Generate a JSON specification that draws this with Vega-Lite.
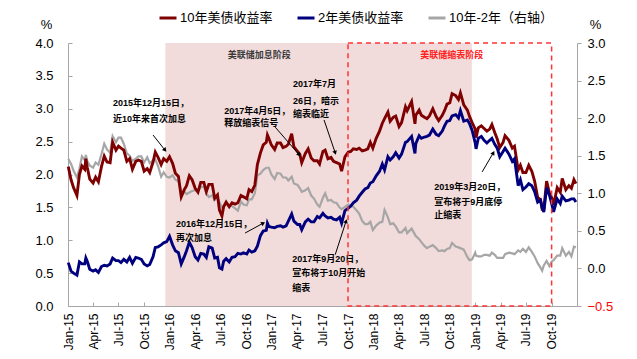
{
  "$schema": "https://vega.github.io/schema/vega-lite/v6.json",
  "width": 509,
  "height": 263,
  "autosize": {"type": "none"},
  "padding": {"left": 68, "top": 43, "right": 60, "bottom": 53},
  "background": "white",
  "config": {
    "view": {"stroke": null},
    "font": "Liberation Sans, Noto Sans CJK SC",
    "axis": {"grid": false, "domainColor": "#A6A6A6", "tickColor": "#A6A6A6", "labelColor": "#000000", "labelFont": "Liberation Sans", "labelFontSize": 13, "titleFont": "Liberation Sans", "titleFontSize": 13, "titleFontWeight": "normal", "titleColor": "#000000", "labelOverlap": false, "labelBound": false},
    "legend": {"orient": "none", "legendX": 90, "legendY": -35, "direction": "horizontal", "symbolType": "stroke", "symbolSize": 289, "symbolStrokeWidth": 3, "labelFontSize": 13, "labelFont": "Liberation Sans, Noto Sans CJK SC", "labelColor": "#000000", "columnPadding": 18, "labelOffset": 2}
  },
  "datasets": {
    "t": [
      {"d":"2015-01-02","y10":2.12,"y2":0.66,"sp":1.46},
      {"d":"2015-01-12","y10":1.92,"y2":0.53,"sp":1.39},
      {"d":"2015-01-21","y10":1.80,"y2":0.50,"sp":1.30},
      {"d":"2015-02-02","y10":1.68,"y2":0.47,"sp":1.21},
      {"d":"2015-02-11","y10":2.00,"y2":0.67,"sp":1.33},
      {"d":"2015-02-20","y10":2.13,"y2":0.64,"sp":1.49},
      {"d":"2015-03-02","y10":2.08,"y2":0.64,"sp":1.44},
      {"d":"2015-03-06","y10":2.24,"y2":0.73,"sp":1.51},
      {"d":"2015-03-11","y10":2.11,"y2":0.68,"sp":1.43},
      {"d":"2015-03-20","y10":1.93,"y2":0.56,"sp":1.37},
      {"d":"2015-04-01","y10":1.87,"y2":0.53,"sp":1.34},
      {"d":"2015-04-10","y10":1.96,"y2":0.55,"sp":1.41},
      {"d":"2015-04-20","y10":1.89,"y2":0.51,"sp":1.38},
      {"d":"2015-05-01","y10":2.12,"y2":0.60,"sp":1.52},
      {"d":"2015-05-11","y10":2.28,"y2":0.62,"sp":1.66},
      {"d":"2015-05-21","y10":2.19,"y2":0.61,"sp":1.58},
      {"d":"2015-06-01","y10":2.18,"y2":0.64,"sp":1.54},
      {"d":"2015-06-10","y10":2.49,"y2":0.73,"sp":1.76},
      {"d":"2015-06-22","y10":2.37,"y2":0.69,"sp":1.68},
      {"d":"2015-07-01","y10":2.43,"y2":0.69,"sp":1.74},
      {"d":"2015-07-10","y10":2.40,"y2":0.66,"sp":1.74},
      {"d":"2015-07-20","y10":2.37,"y2":0.71,"sp":1.66},
      {"d":"2015-07-31","y10":2.20,"y2":0.67,"sp":1.53},
      {"d":"2015-08-10","y10":2.24,"y2":0.74,"sp":1.50},
      {"d":"2015-08-20","y10":2.08,"y2":0.65,"sp":1.43},
      {"d":"2015-09-01","y10":2.20,"y2":0.74,"sp":1.46},
      {"d":"2015-09-10","y10":2.22,"y2":0.73,"sp":1.49},
      {"d":"2015-09-21","y10":2.20,"y2":0.71,"sp":1.49},
      {"d":"2015-10-01","y10":2.05,"y2":0.64,"sp":1.41},
      {"d":"2015-10-12","y10":2.09,"y2":0.61,"sp":1.48},
      {"d":"2015-10-21","y10":2.03,"y2":0.63,"sp":1.40},
      {"d":"2015-11-02","y10":2.19,"y2":0.75,"sp":1.44},
      {"d":"2015-11-10","y10":2.34,"y2":0.89,"sp":1.45},
      {"d":"2015-11-20","y10":2.26,"y2":0.90,"sp":1.36},
      {"d":"2015-12-01","y10":2.15,"y2":0.93,"sp":1.22},
      {"d":"2015-12-10","y10":2.24,"y2":0.96,"sp":1.28},
      {"d":"2015-12-21","y10":2.20,"y2":0.98,"sp":1.22},
      {"d":"2015-12-31","y10":2.27,"y2":1.06,"sp":1.21},
      {"d":"2016-01-11","y10":2.17,"y2":0.93,"sp":1.24},
      {"d":"2016-01-21","y10":2.02,"y2":0.84,"sp":1.18},
      {"d":"2016-02-01","y10":1.97,"y2":0.81,"sp":1.16},
      {"d":"2016-02-11","y10":1.66,"y2":0.64,"sp":1.02},
      {"d":"2016-02-22","y10":1.77,"y2":0.75,"sp":1.02},
      {"d":"2016-03-01","y10":1.83,"y2":0.84,"sp":0.99},
      {"d":"2016-03-11","y10":1.98,"y2":0.97,"sp":1.01},
      {"d":"2016-03-21","y10":1.92,"y2":0.89,"sp":1.03},
      {"d":"2016-04-01","y10":1.79,"y2":0.75,"sp":1.04},
      {"d":"2016-04-11","y10":1.73,"y2":0.70,"sp":1.03},
      {"d":"2016-04-21","y10":1.88,"y2":0.80,"sp":1.08},
      {"d":"2016-05-02","y10":1.88,"y2":0.79,"sp":1.09},
      {"d":"2016-05-11","y10":1.74,"y2":0.74,"sp":1.00},
      {"d":"2016-05-20","y10":1.85,"y2":0.90,"sp":0.95},
      {"d":"2016-06-01","y10":1.85,"y2":0.88,"sp":0.97},
      {"d":"2016-06-10","y10":1.64,"y2":0.73,"sp":0.91},
      {"d":"2016-06-20","y10":1.69,"y2":0.74,"sp":0.95},
      {"d":"2016-06-27","y10":1.46,"y2":0.58,"sp":0.88},
      {"d":"2016-07-06","y10":1.37,"y2":0.56,"sp":0.81},
      {"d":"2016-07-12","y10":1.51,"y2":0.68,"sp":0.83},
      {"d":"2016-07-21","y10":1.58,"y2":0.72,"sp":0.86},
      {"d":"2016-08-01","y10":1.51,"y2":0.67,"sp":0.84},
      {"d":"2016-08-11","y10":1.57,"y2":0.74,"sp":0.83},
      {"d":"2016-08-22","y10":1.55,"y2":0.75,"sp":0.80},
      {"d":"2016-09-01","y10":1.57,"y2":0.80,"sp":0.77},
      {"d":"2016-09-12","y10":1.68,"y2":0.79,"sp":0.89},
      {"d":"2016-09-21","y10":1.66,"y2":0.81,"sp":0.85},
      {"d":"2016-10-03","y10":1.63,"y2":0.79,"sp":0.84},
      {"d":"2016-10-11","y10":1.77,"y2":0.85,"sp":0.92},
      {"d":"2016-10-21","y10":1.74,"y2":0.82,"sp":0.92},
      {"d":"2016-11-01","y10":1.84,"y2":0.84,"sp":1.00},
      {"d":"2016-11-10","y10":2.15,"y2":0.91,"sp":1.24},
      {"d":"2016-11-21","y10":2.33,"y2":1.07,"sp":1.26},
      {"d":"2016-12-01","y10":2.45,"y2":1.14,"sp":1.31},
      {"d":"2016-12-12","y10":2.49,"y2":1.15,"sp":1.34},
      {"d":"2016-12-16","y10":2.60,"y2":1.26,"sp":1.34},
      {"d":"2016-12-21","y10":2.55,"y2":1.21,"sp":1.34},
      {"d":"2016-12-30","y10":2.45,"y2":1.20,"sp":1.25},
      {"d":"2017-01-11","y10":2.38,"y2":1.19,"sp":1.19},
      {"d":"2017-01-20","y10":2.48,"y2":1.21,"sp":1.27},
      {"d":"2017-02-01","y10":2.48,"y2":1.22,"sp":1.26},
      {"d":"2017-02-10","y10":2.41,"y2":1.20,"sp":1.21},
      {"d":"2017-02-21","y10":2.43,"y2":1.22,"sp":1.21},
      {"d":"2017-03-01","y10":2.46,"y2":1.29,"sp":1.17},
      {"d":"2017-03-13","y10":2.62,"y2":1.40,"sp":1.22},
      {"d":"2017-03-21","y10":2.42,"y2":1.29,"sp":1.13},
      {"d":"2017-04-03","y10":2.35,"y2":1.24,"sp":1.11},
      {"d":"2017-04-11","y10":2.31,"y2":1.24,"sp":1.07},
      {"d":"2017-04-18","y10":2.18,"y2":1.16,"sp":1.02},
      {"d":"2017-05-01","y10":2.32,"y2":1.28,"sp":1.04},
      {"d":"2017-05-11","y10":2.39,"y2":1.32,"sp":1.07},
      {"d":"2017-05-22","y10":2.25,"y2":1.28,"sp":0.97},
      {"d":"2017-06-01","y10":2.21,"y2":1.28,"sp":0.93},
      {"d":"2017-06-13","y10":2.21,"y2":1.36,"sp":0.85},
      {"d":"2017-06-21","y10":2.16,"y2":1.34,"sp":0.82},
      {"d":"2017-07-03","y10":2.35,"y2":1.41,"sp":0.94},
      {"d":"2017-07-11","y10":2.37,"y2":1.37,"sp":1.00},
      {"d":"2017-07-21","y10":2.24,"y2":1.34,"sp":0.90},
      {"d":"2017-08-01","y10":2.26,"y2":1.35,"sp":0.91},
      {"d":"2017-08-10","y10":2.20,"y2":1.32,"sp":0.88},
      {"d":"2017-08-21","y10":2.18,"y2":1.31,"sp":0.87},
      {"d":"2017-09-01","y10":2.16,"y2":1.35,"sp":0.81},
      {"d":"2017-09-08","y10":2.05,"y2":1.26,"sp":0.79},
      {"d":"2017-09-20","y10":2.27,"y2":1.45,"sp":0.82},
      {"d":"2017-10-02","y10":2.34,"y2":1.49,"sp":0.85},
      {"d":"2017-10-11","y10":2.35,"y2":1.52,"sp":0.83},
      {"d":"2017-10-20","y10":2.39,"y2":1.57,"sp":0.82},
      {"d":"2017-11-01","y10":2.38,"y2":1.61,"sp":0.77},
      {"d":"2017-11-10","y10":2.40,"y2":1.67,"sp":0.73},
      {"d":"2017-11-21","y10":2.36,"y2":1.73,"sp":0.63},
      {"d":"2017-12-01","y10":2.37,"y2":1.78,"sp":0.59},
      {"d":"2017-12-11","y10":2.39,"y2":1.80,"sp":0.59},
      {"d":"2017-12-20","y10":2.49,"y2":1.87,"sp":0.62},
      {"d":"2017-12-29","y10":2.40,"y2":1.89,"sp":0.51},
      {"d":"2018-01-10","y10":2.55,"y2":1.98,"sp":0.57},
      {"d":"2018-01-22","y10":2.66,"y2":2.05,"sp":0.61},
      {"d":"2018-02-01","y10":2.78,"y2":2.16,"sp":0.62},
      {"d":"2018-02-09","y10":2.85,"y2":2.07,"sp":0.78},
      {"d":"2018-02-21","y10":2.95,"y2":2.27,"sp":0.68},
      {"d":"2018-03-01","y10":2.81,"y2":2.22,"sp":0.59},
      {"d":"2018-03-12","y10":2.87,"y2":2.27,"sp":0.60},
      {"d":"2018-03-21","y10":2.89,"y2":2.33,"sp":0.56},
      {"d":"2018-04-02","y10":2.73,"y2":2.25,"sp":0.48},
      {"d":"2018-04-11","y10":2.79,"y2":2.31,"sp":0.48},
      {"d":"2018-04-25","y10":3.03,"y2":2.49,"sp":0.54},
      {"d":"2018-05-01","y10":2.97,"y2":2.50,"sp":0.47},
      {"d":"2018-05-17","y10":3.11,"y2":2.58,"sp":0.53},
      {"d":"2018-05-29","y10":2.77,"y2":2.32,"sp":0.45},
      {"d":"2018-06-01","y10":2.90,"y2":2.47,"sp":0.43},
      {"d":"2018-06-13","y10":2.98,"y2":2.59,"sp":0.39},
      {"d":"2018-06-21","y10":2.90,"y2":2.55,"sp":0.35},
      {"d":"2018-07-02","y10":2.87,"y2":2.57,"sp":0.30},
      {"d":"2018-07-11","y10":2.85,"y2":2.58,"sp":0.27},
      {"d":"2018-07-20","y10":2.89,"y2":2.60,"sp":0.29},
      {"d":"2018-08-01","y10":3.00,"y2":2.69,"sp":0.31},
      {"d":"2018-08-13","y10":2.88,"y2":2.61,"sp":0.27},
      {"d":"2018-08-22","y10":2.82,"y2":2.59,"sp":0.23},
      {"d":"2018-09-04","y10":2.90,"y2":2.66,"sp":0.24},
      {"d":"2018-09-12","y10":2.97,"y2":2.74,"sp":0.23},
      {"d":"2018-09-21","y10":3.07,"y2":2.81,"sp":0.26},
      {"d":"2018-10-01","y10":3.09,"y2":2.82,"sp":0.27},
      {"d":"2018-10-09","y10":3.23,"y2":2.89,"sp":0.34},
      {"d":"2018-10-22","y10":3.20,"y2":2.91,"sp":0.29},
      {"d":"2018-11-01","y10":3.14,"y2":2.86,"sp":0.28},
      {"d":"2018-11-08","y10":3.24,"y2":2.97,"sp":0.27},
      {"d":"2018-11-20","y10":3.06,"y2":2.81,"sp":0.25},
      {"d":"2018-12-03","y10":2.98,"y2":2.83,"sp":0.15},
      {"d":"2018-12-11","y10":2.88,"y2":2.77,"sp":0.11},
      {"d":"2018-12-20","y10":2.79,"y2":2.67,"sp":0.12},
      {"d":"2018-12-31","y10":2.69,"y2":2.48,"sp":0.21},
      {"d":"2019-01-03","y10":2.56,"y2":2.39,"sp":0.17},
      {"d":"2019-01-11","y10":2.71,"y2":2.55,"sp":0.16},
      {"d":"2019-01-22","y10":2.74,"y2":2.58,"sp":0.16},
      {"d":"2019-02-01","y10":2.70,"y2":2.52,"sp":0.18},
      {"d":"2019-02-11","y10":2.66,"y2":2.48,"sp":0.18},
      {"d":"2019-02-21","y10":2.69,"y2":2.52,"sp":0.17},
      {"d":"2019-03-01","y10":2.76,"y2":2.55,"sp":0.21},
      {"d":"2019-03-11","y10":2.64,"y2":2.46,"sp":0.18},
      {"d":"2019-03-20","y10":2.54,"y2":2.40,"sp":0.14},
      {"d":"2019-03-29","y10":2.41,"y2":2.27,"sp":0.14},
      {"d":"2019-04-10","y10":2.49,"y2":2.35,"sp":0.14},
      {"d":"2019-04-17","y10":2.59,"y2":2.40,"sp":0.19},
      {"d":"2019-05-01","y10":2.52,"y2":2.31,"sp":0.21},
      {"d":"2019-05-13","y10":2.40,"y2":2.20,"sp":0.20},
      {"d":"2019-05-21","y10":2.43,"y2":2.24,"sp":0.19},
      {"d":"2019-06-03","y10":2.07,"y2":1.83,"sp":0.24},
      {"d":"2019-06-11","y10":2.14,"y2":1.92,"sp":0.22},
      {"d":"2019-06-20","y10":2.03,"y2":1.77,"sp":0.26},
      {"d":"2019-07-01","y10":2.03,"y2":1.81,"sp":0.22},
      {"d":"2019-07-11","y10":2.14,"y2":1.86,"sp":0.28},
      {"d":"2019-07-22","y10":2.05,"y2":1.83,"sp":0.22},
      {"d":"2019-08-01","y10":1.90,"y2":1.74,"sp":0.16},
      {"d":"2019-08-12","y10":1.65,"y2":1.58,"sp":0.07},
      {"d":"2019-08-22","y10":1.62,"y2":1.61,"sp":0.01},
      {"d":"2019-08-28","y10":1.47,"y2":1.50,"sp":-0.03},
      {"d":"2019-09-03","y10":1.47,"y2":1.43,"sp":0.04},
      {"d":"2019-09-13","y10":1.90,"y2":1.80,"sp":0.10},
      {"d":"2019-09-23","y10":1.72,"y2":1.69,"sp":0.03},
      {"d":"2019-10-01","y10":1.65,"y2":1.56,"sp":0.09},
      {"d":"2019-10-08","y10":1.54,"y2":1.43,"sp":0.11},
      {"d":"2019-10-21","y10":1.80,"y2":1.63,"sp":0.17},
      {"d":"2019-11-01","y10":1.73,"y2":1.56,"sp":0.17},
      {"d":"2019-11-08","y10":1.94,"y2":1.67,"sp":0.27},
      {"d":"2019-11-21","y10":1.77,"y2":1.60,"sp":0.17},
      {"d":"2019-12-02","y10":1.83,"y2":1.61,"sp":0.22},
      {"d":"2019-12-11","y10":1.79,"y2":1.63,"sp":0.16},
      {"d":"2019-12-20","y10":1.92,"y2":1.63,"sp":0.29},
      {"d":"2019-12-27","y10":1.86,"y2":1.58,"sp":0.28}
    ],
    "arrows": [
      {"d1": "2015-11-02", "v1": 2.60, "d2": "2015-12-15", "v2": 2.37, "id": 1},
      {"d1": "2017-01-13", "v1": 2.72, "d2": "2017-04-09", "v2": 2.30, "id": 2},
      {"d1": "2017-07-07", "v1": 2.83, "d2": "2017-08-16", "v2": 2.33, "id": 3},
      {"d1": "2016-09-27", "v1": 1.11, "d2": "2016-12-01", "v2": 1.26, "id": 4},
      {"d1": "2017-08-16", "v1": 0.78, "d2": "2017-09-24", "v2": 1.29, "id": 5},
      {"d1": "2019-01-25", "v1": 2.04, "d2": "2019-03-06", "v2": 2.33, "id": 6}
    ]
  },
  "layer": [
    {
      "data": {"values": [{"s": "2015-12-16", "e": "2018-12-19"}]},
      "mark": {"type": "rect", "color": "#F2DCDB"},
      "encoding": {
        "x": {"field": "s", "type": "temporal", "scale": {"type": "utc", "domain": [{"year": 2015, "month": 1, "date": 1, "utc": true}, {"year": 2019, "month": 12, "date": 31, "utc": true}]}, "axis": {"title": null, "format": "%b-%y", "labelAngle": 270, "labelFontSize": 12, "tickCount": {"interval": "month", "step": 3}, "tickSize": -4, "labelPadding": 11, "labelOverlap": false, "labelFlush": false}},
        "x2": {"field": "e"}
      }
    },
    {
      "data": {"name": "t"},
      "transform": [{"fold": ["sp"], "as": ["series", "val"]}],
      "mark": {"type": "line", "strokeWidth": 2.2},
      "encoding": {
        "x": {"field": "d", "type": "temporal", "axis": {"title": null}},
        "y": {"field": "val", "type": "quantitative", "scale": {"domain": [-0.5, 3], "nice": false, "zero": false}, "axis": {"orient": "right", "title": "%", "titleAngle": 0, "titleX": 18, "titleY": -19, "titleAlign": "center", "titleBaseline": "middle", "values": [-0.5, 0, 0.5, 1, 1.5, 2, 2.5, 3], "format": ".1f", "tickSize": 4, "labelPadding": 6, "labelOverlap": false, "labelColor": {"condition": {"test": "datum.value < 0", "value": "#FF0000"}, "value": "#000000"}}},
        "color": {"field": "series", "type": "nominal", "scale": {"domain": ["y10", "y2", "sp"], "range": ["#7F0000", "#00007F", "#A6A6A6"]}, "legend": {"title": null, "labelExpr": "datum.value == 'y10' ? '10年美债收益率' : datum.value == 'y2' ? '2年美债收益率' : '10年-2年（右轴）'"}}
      }
    },
    {
      "data": {"name": "t"},
      "transform": [{"fold": ["y10", "y2"], "as": ["series", "val"]}],
      "mark": {"type": "line", "strokeWidth": 2.9},
      "encoding": {
        "x": {"field": "d", "type": "temporal", "axis": {"title": null}},
        "y": {"field": "val", "type": "quantitative", "scale": {"domain": [0, 4], "nice": false}, "axis": {"orient": "left", "title": "%", "titleAngle": 0, "titleX": -22, "titleY": -19, "titleAlign": "center", "titleBaseline": "middle", "values": [0, 0.5, 1, 1.5, 2, 2.5, 3, 3.5, 4], "format": ".1f", "tickSize": -4, "labelPadding": 19, "labelOverlap": false}},
        "color": {"field": "series", "type": "nominal", "scale": {"domain": ["y10", "y2", "sp"], "range": ["#7F0000", "#00007F", "#A6A6A6"]}}
      }
    },
    {
      "data": {"name": "arrows"},
      "mark": {"type": "rule", "color": "#000000", "strokeWidth": 1},
      "encoding": {
        "x": {"field": "d1", "type": "temporal", "axis": {"title": null}},
        "x2": {"field": "d2"},
        "y": {"field": "v1", "type": "quantitative", "scale": {"domain": [0, 4], "nice": false}, "axis": null},
        "y2": {"field": "v2"}
      }
    },
    {
      "data": {"name": "arrows"},
      "mark": {"type": "point", "shape": "triangle-up", "filled": true, "color": "#000000", "size": 22, "opacity": 1},
      "encoding": {
        "x": {"field": "d2", "type": "temporal", "axis": {"title": null}},
        "y": {"field": "v2", "type": "quantitative", "scale": {"domain": [0, 4], "nice": false}, "axis": null},
        "angle": {"field": "id", "type": "ordinal", "scale": {"type": "ordinal", "domain": [1, 2, 3, 4, 5, 6], "range": [141, 139, 162, 61, 18, 30]}, "legend": null}
      }
    },
    {
      "data": {"values": [
        {"d": "2015-06-11", "v": 3.09, "t": "2015年12月15日，"},
        {"d": "2015-06-11", "v": 2.84, "t": "近10年来首次加息"},
        {"d": "2016-07-14", "v": 2.97, "t": "2017年4月5日，"},
        {"d": "2016-07-14", "v": 2.78, "t": "释放缩表信号"},
        {"d": "2017-03-18", "v": 3.38, "t": "2017年7月"},
        {"d": "2017-03-18", "v": 3.12, "t": "26日，暗示"},
        {"d": "2017-03-18", "v": 2.92, "t": "缩表临近"},
        {"d": "2016-01-23", "v": 1.25, "t": "2016年12月15日，"},
        {"d": "2016-01-23", "v": 1.03, "t": "再次加息"},
        {"d": "2017-03-15", "v": 0.72, "t": "2017年9月20日，"},
        {"d": "2017-03-15", "v": 0.50, "t": "宣布将于10月开始"},
        {"d": "2017-03-15", "v": 0.27, "t": "缩表"},
        {"d": "2018-08-06", "v": 1.81, "t": "2019年3月20日，"},
        {"d": "2018-08-06", "v": 1.58, "t": "宣布将于9月底停"},
        {"d": "2018-08-06", "v": 1.38, "t": "止缩表"}
      ]},
      "mark": {"type": "text", "align": "left", "baseline": "middle", "fontSize": 9, "fontWeight": "bold", "color": "#000000", "font": "Liberation Sans, Noto Sans CJK SC"},
      "encoding": {
        "x": {"field": "d", "type": "temporal", "axis": {"title": null}},
        "y": {"field": "v", "type": "quantitative", "scale": {"domain": [0, 4], "nice": false}, "axis": null},
        "text": {"field": "t"}
      }
    },
    {
      "data": {"values": [{"d": "2016-11-17", "v": 3.82, "t": "美联储加息阶段"}]},
      "mark": {"type": "text", "align": "center", "baseline": "middle", "fontSize": 9, "fontWeight": "bold", "color": "#3A3A3A", "font": "Liberation Sans, Noto Sans CJK SC"},
      "encoding": {
        "x": {"field": "d", "type": "temporal", "axis": {"title": null}},
        "y": {"field": "v", "type": "quantitative", "scale": {"domain": [0, 4], "nice": false}, "axis": null},
        "text": {"field": "t"}
      }
    },
    {
      "data": {"values": [{"d": "2018-10-08", "v": 3.82, "t": "美联储缩表阶段"}]},
      "mark": {"type": "text", "align": "center", "baseline": "middle", "fontSize": 9, "fontWeight": "bold", "color": "#FF2020", "font": "Liberation Sans, Noto Sans CJK SC"},
      "encoding": {
        "x": {"field": "d", "type": "temporal", "axis": {"title": null}},
        "y": {"field": "v", "type": "quantitative", "scale": {"domain": [0, 4], "nice": false}, "axis": null},
        "text": {"field": "t"}
      }
    },
    {
      "data": {"values": [{"s": "2017-10-01", "e": "2019-10-01"}]},
      "mark": {"type": "rect", "filled": false, "stroke": "#FF3333", "strokeWidth": 1.5, "strokeDash": [5, 4], "fill": null},
      "encoding": {
        "x": {"field": "s", "type": "temporal", "axis": {"title": null}},
        "x2": {"field": "e"}
      }
    }
  ],
  "resolve": {"scale": {"y": "independent"}, "axis": {"y": "independent"}}
}
